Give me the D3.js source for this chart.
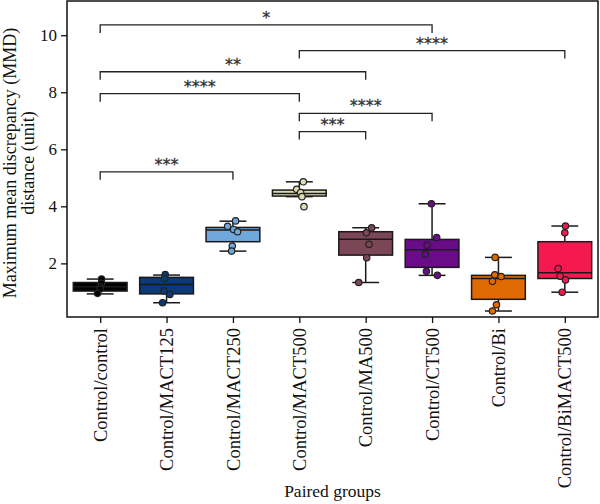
<!DOCTYPE html>
<html>
<head>
<meta charset="utf-8">
<script src="https://cdn.jsdelivr.net/npm/d3@7"></script>
<style>
    body { margin: 0; background: #fff; }
    .axisText { font-family: "Liberation Serif", "DejaVu Serif", serif; fill: #111; }
    .sigText { font-family: "DejaVu Sans", sans-serif; fill: #222; }
</style>
</head>
<body>
<svg id="chart"></svg>
<script>
const width = 600, height = 504;
const plot = { left: 67, right: 598, top: 1, bottom: 317 };

// ---------------- data ----------------
const groups = ["Control/control", "Control/MACT125", "Control/MACT250", "Control/MACT500",
    "Control/MA500", "Control/CT500", "Control/Bi", "Control/BiMACT500"];
const colors = ["#000000", "#0c3a78", "#6fa8dc", "#deddb2", "#7b4656", "#6a0b88", "#e06a02", "#f4194f"];

const q1 = [1.03, 0.93, 2.76, 4.36, 2.29, 1.86, 0.74, 1.47];
const medians = [1.18, 1.26, 3.17, 4.45, 2.85, 2.48, 1.47, 1.67];
const q3 = [1.33, 1.51, 3.26, 4.57, 3.11, 2.84, 1.58, 2.76];
const whiskerLow = [0.93, 0.62, 2.43, 4.34, 1.33, 1.58, 0.33, 0.99];
const whiskerHigh = [1.45, 1.59, 3.48, 4.86, 3.25, 4.09, 2.21, 3.31];

// observed values per group, with horizontal jitter (in category units)
const points = [
    [1.45, 1.30, 1.18, 1.10, 0.95],
    [1.61, 1.47, 1.03, 0.91, 0.62],
    [3.49, 3.30, 3.19, 3.11, 2.61, 2.43],
    [4.86, 4.60, 4.48, 4.34, 3.99],
    [3.25, 3.07, 2.67, 2.20, 1.33],
    [4.09, 2.91, 2.64, 2.32, 1.72, 1.58],
    [2.21, 1.60, 1.54, 1.37, 0.55, 0.33],
    [3.31, 3.07, 1.82, 1.55, 1.42, 0.99]
];
const jitter = [
    [0.02, 0.02, 0, 0, -0.04],
    [-0.02, -0.03, -0.04, 0.05, -0.06],
    [0.04, -0.08, 0.01, 0.07, -0.01, -0.02],
    [0.06, -0.04, 0.02, 0.04, 0.07],
    [0.09, 0.01, 0.05, 0.015, -0.105],
    [-0.01, 0.07, -0.075, -0.1, -0.085, 0.08],
    [-0.05, -0.055, 0.04, -0.09, -0.03, -0.09],
    [0.01, 0, -0.1, -0.07, 0.01, -0.04]
];

// significance brackets: [from group, to group, height, label]
const sigFrom = [0, 3, 0, 0, 3, 3, 0];
const sigTo = [5, 7, 4, 3, 5, 4, 2];
const sigY = [10.36, 9.46, 8.72, 7.95, 7.26, 6.62, 5.21];
const sigLabels = ["*", "****", "**", "****", "****", "***", "***"];

const yTicks = [2, 4, 6, 8, 10];

// ---------------- scales ----------------
const svg = d3.select("#chart")
    .attr("width", width)
    .attr("height", height);

const x = d3.scalePoint()
    .domain(groups)
    .range([plot.left, plot.right])
    .padding(0.5);

const step = x.step();
const xIdx = (i, off) => x(groups[i]) + (off || 0) * step;

const y = d3.scaleLinear()
    .domain([0.12, 11.2])
    .range([plot.bottom, plot.top]);

// ---------------- axes ----------------
const xAxis = svg.append("g")
    .attr("transform", `translate(0,${plot.bottom})`)
    .call(d3.axisBottom(x).tickSize(6).tickSizeOuter(0));
xAxis.select(".domain").remove();
xAxis.selectAll(".tick line").attr("stroke", "#111").attr("stroke-width", 1.3);
xAxis.selectAll(".tick text")
    .attr("class", "axisText")
    .style("font-size", "18.5px")
    .attr("text-anchor", "end")
    .attr("transform", "rotate(-90)")
    .attr("x", -11)
    .attr("y", 0)
    .attr("dy", "0.33em");

const yAxis = svg.append("g")
    .attr("transform", `translate(${plot.left},0)`)
    .call(d3.axisLeft(y).tickValues(yTicks).tickSize(6).tickPadding(4));
yAxis.select(".domain").remove();
yAxis.selectAll(".tick line").attr("stroke", "#111").attr("stroke-width", 1.3);
yAxis.selectAll(".tick text")
    .attr("class", "axisText")
    .style("font-size", "17px");

svg.append("rect")
    .attr("x", plot.left)
    .attr("y", plot.top)
    .attr("width", plot.right - plot.left)
    .attr("height", plot.bottom - plot.top)
    .attr("fill", "none")
    .attr("stroke", "#111")
    .attr("stroke-width", 1.5);

// axis titles
svg.append("text")
    .attr("class", "axisText")
    .attr("x", (plot.left + plot.right) / 2)
    .attr("y", 497)
    .attr("text-anchor", "middle")
    .style("font-size", "17.5px")
    .text("Paired groups");

const yTitle = svg.append("text")
    .attr("class", "axisText")
    .attr("transform", `translate(16,${(plot.top + plot.bottom) / 2 + 4}) rotate(-90)`)
    .attr("text-anchor", "middle")
    .style("font-size", "18px");
yTitle.append("tspan").attr("x", 0).attr("y", 0).text("Maximum mean discrepancy (MMD)");
yTitle.append("tspan").attr("x", 0).attr("y", 18).text("distance (unit)");

// ---------------- boxes ----------------
const boxW = step * 0.81;
const capW = boxW / 2;

const boxes = svg.append("g")
    .selectAll("g")
    .data(groups.map((g, i) => i))
    .join("g");

boxes.append("line")
    .attr("x1", i => xIdx(i)).attr("x2", i => xIdx(i))
    .attr("y1", i => y(whiskerLow[i])).attr("y2", i => y(whiskerHigh[i]))
    .attr("stroke", "#1a1a1a").attr("stroke-width", 1.5);

boxes.selectAll(".cap")
    .data(i => [[i, whiskerLow[i]], [i, whiskerHigh[i]]])
    .join("line")
    .attr("class", "cap")
    .attr("x1", d => xIdx(d[0]) - capW / 2).attr("x2", d => xIdx(d[0]) + capW / 2)
    .attr("y1", d => y(d[1])).attr("y2", d => y(d[1]))
    .attr("stroke", "#1a1a1a").attr("stroke-width", 1.5);

boxes.append("rect")
    .attr("x", i => xIdx(i) - boxW / 2)
    .attr("width", boxW)
    .attr("y", i => y(q3[i]))
    .attr("height", i => y(q1[i]) - y(q3[i]))
    .attr("fill", i => colors[i])
    .attr("stroke", "#1a1a1a").attr("stroke-width", 1.5);

boxes.append("line")
    .attr("x1", i => xIdx(i) - boxW / 2).attr("x2", i => xIdx(i) + boxW / 2)
    .attr("y1", i => y(medians[i])).attr("y2", i => y(medians[i]))
    .attr("stroke", "#1a1a1a").attr("stroke-width", 1.5);

boxes.selectAll("circle")
    .data(i => points[i].map((v, k) => ({ i, v, off: jitter[i][k] })))
    .join("circle")
    .attr("cx", d => xIdx(d.i, d.off))
    .attr("cy", d => y(d.v))
    .attr("r", 3.2)
    .attr("fill", d => colors[d.i])
    .attr("stroke", "#222")
    .attr("stroke-width", 1.2);

// ---------------- significance brackets ----------------
const drop = 8;
const sig = svg.append("g")
    .selectAll("g")
    .data(sigY.map((v, k) => k))
    .join("g");

sig.append("path")
    .attr("d", k => {
        const x1 = xIdx(sigFrom[k]), x2 = xIdx(sigTo[k]), yy = y(sigY[k]);
        return `M${x1},${yy + drop}V${yy}H${x2}V${yy + drop}`;
    })
    .attr("fill", "none")
    .attr("stroke", "#222")
    .attr("stroke-width", 1.3);

sig.append("text")
    .attr("class", "sigText")
    .attr("x", k => (xIdx(sigFrom[k]) + xIdx(sigTo[k])) / 2)
    .attr("y", k => y(sigY[k]) - 2)
    .attr("text-anchor", "middle")
    .style("font-size", "16px")
    .style("stroke", "#444")
    .style("stroke-width", 0.3)
    .text(k => sigLabels[k]);
</script>
</body>
</html>
